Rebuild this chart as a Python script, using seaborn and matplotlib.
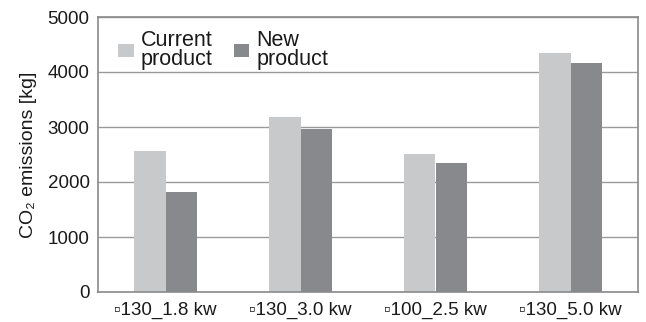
import matplotlib
matplotlib.use("Agg")
import matplotlib.pyplot as plt
import seaborn as sns
import pandas as pd

categories = ["\u25ab130_1.8 kw", "\u25ab130_3.0 kw", "\u25ab100_2.5 kw", "\u25ab130_5.0 kw"]
series_names = ["Current\nproduct", "New\nproduct"]
current_values = [2560, 3180, 2510, 4350]
new_values = [1810, 2970, 2340, 4160]
y_ticks = [0, 1000, 2000, 3000, 4000, 5000]

df = pd.DataFrame({
    "category": categories * 2,
    "series": [series_names[0]] * 4 + [series_names[1]] * 4,
    "value": current_values + new_values,
})

sns.set_theme(style="white")
plt.rcParams["font.family"] = ["Liberation Sans", "DejaVu Sans"]

fig = plt.figure(figsize=(6.46, 3.22), dpi=100)
ax = fig.add_axes([98 / 646, 30 / 322, 540 / 646, 275 / 322])

palette = {series_names[0]: "#c8c9cb", series_names[1]: "#88898d"}
sns.barplot(data=df, x="category", y="value", hue="series", palette=palette,
            saturation=1, width=0.47, ax=ax, legend=True, linewidth=0)

ax.set_ylim(0, 5000)
ax.set_yticks(y_ticks)
ax.set_xlim(-0.5, 3.5)
ax.yaxis.grid(True, color="#9a9a9a", linewidth=1.0)
ax.set_axisbelow(True)
for s in ax.spines.values():
    s.set_visible(True)
    s.set_color("#8a8a8a")
    s.set_linewidth(1.2)
ax.tick_params(axis="both", length=0, labelsize=13.5, colors="#1a1a1a", pad=6)
ax.tick_params(axis="x", pad=7)
ax.set_xlabel("")
ax.set_ylabel("CO\u2082 emissions [kg]", fontsize=14, color="#1a1a1a", labelpad=8)

handles, labels = ax.get_legend_handles_labels()
leg = ax.legend(handles, labels, loc="upper left", ncol=2, frameon=False,
                fontsize=15.5, handlelength=0.7, handleheight=0.56, handletextpad=0.33,
                columnspacing=1.0, bbox_to_anchor=(0.01, 1.008), borderaxespad=0.3)
for t in leg.get_texts():
    t.set_linespacing(0.9)
    t.set_color("#1a1a1a")

fig.savefig("out.png", dpi=100)
